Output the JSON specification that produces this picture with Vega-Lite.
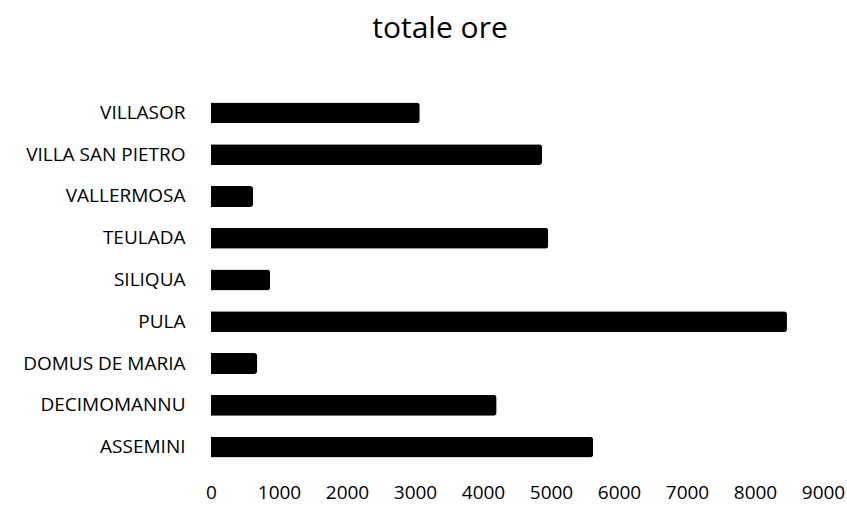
{
  "$schema": "https://vega.github.io/schema/vega-lite/v6.json",
  "width": 612,
  "height": 376,
  "autosize": {"type": "none"},
  "padding": {"left": 211, "top": 92, "right": 24, "bottom": 44},
  "background": "white",
  "title": {
    "text": "totale ore",
    "font": "Open Sans",
    "fontSize": 30,
    "fontWeight": "normal",
    "color": "black",
    "anchor": "middle",
    "dx": -77,
    "offset": 48
  },
  "data": {
    "values": [
      {"comune": "VILLASOR", "ore": 3070},
      {"comune": "VILLA SAN PIETRO", "ore": 4870},
      {"comune": "VALLERMOSA", "ore": 620},
      {"comune": "TEULADA", "ore": 4960},
      {"comune": "SILIQUA", "ore": 870},
      {"comune": "PULA", "ore": 8470},
      {"comune": "DOMUS DE MARIA", "ore": 680},
      {"comune": "DECIMOMANNU", "ore": 4200},
      {"comune": "ASSEMINI", "ore": 5620}
    ]
  },
  "mark": {"type": "bar", "color": "black", "cornerRadiusEnd": 3},
  "encoding": {
    "y": {
      "field": "comune",
      "type": "nominal",
      "sort": "descending",
      "scale": {"paddingInner": 0.5, "paddingOuter": 0.25},
      "axis": {
        "title": null,
        "domain": false,
        "ticks": false,
        "labelPadding": 26,
        "labelFont": "Open Sans",
        "labelFontSize": 19,
        "labelColor": "black"
      }
    },
    "x": {
      "field": "ore",
      "type": "quantitative",
      "scale": {"domain": [0, 9000], "nice": false},
      "axis": {
        "title": null,
        "domain": false,
        "ticks": false,
        "grid": false,
        "values": [0, 1000, 2000, 3000, 4000, 5000, 6000, 7000, 8000, 9000],
        "format": "d",
        "labelPadding": 15,
        "labelFont": "Open Sans",
        "labelFontSize": 19,
        "labelColor": "black",
        "labelFlush": false
      }
    }
  },
  "config": {"view": {"stroke": null}}
}
